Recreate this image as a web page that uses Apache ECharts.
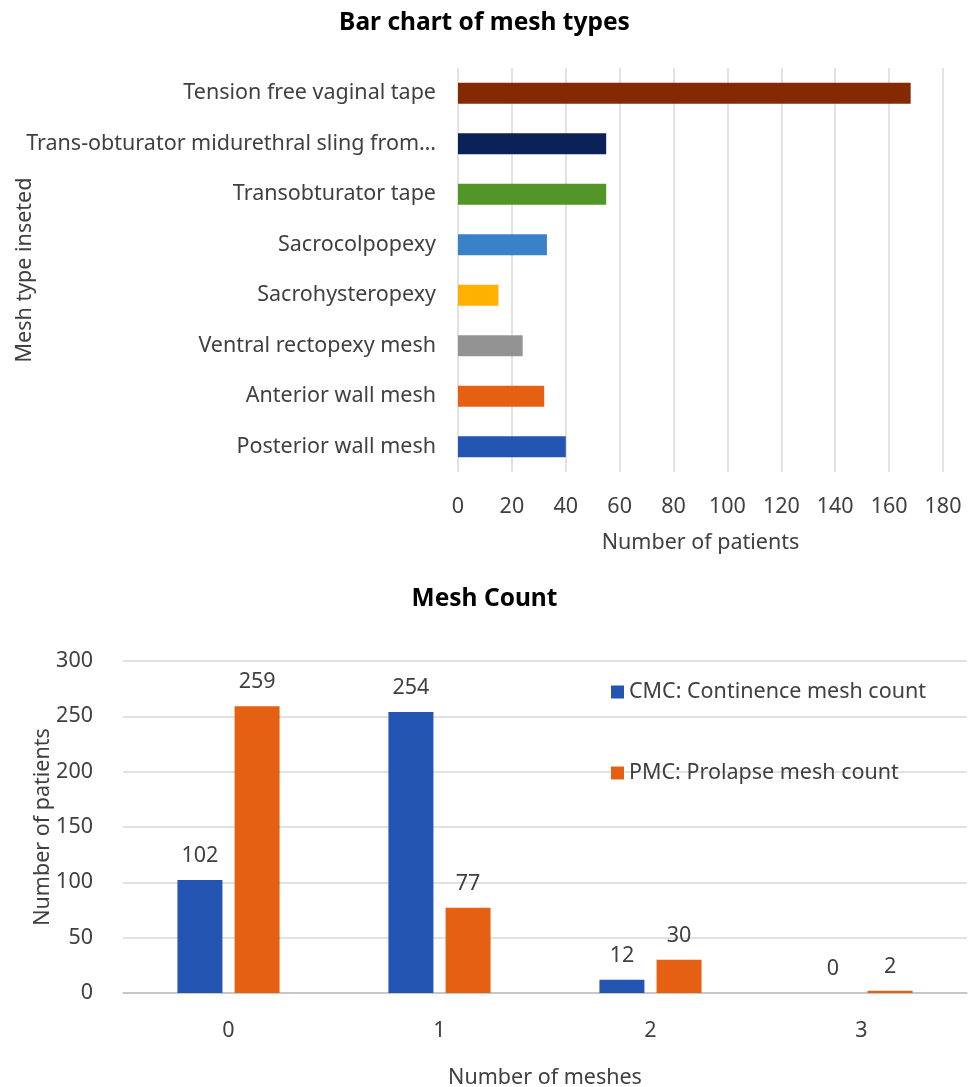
<!DOCTYPE html>
<html>
<head>
<meta charset="utf-8">
<script src="https://cdn.jsdelivr.net/npm/echarts@6/dist/echarts.min.js"></script>
<style>
  html, body { margin: 0; padding: 0; background: #fff; }
  #chart { width: 969px; height: 1087px; }
</style>
</head>
<body>
<div id="chart"></div>
<script>
// Mesh types inserted (top chart)
const meshTypes = [
  'Tension free vaginal tape',
  'Trans-obturator midurethral sling from…',
  'Transobturator tape',
  'Sacrocolpopexy',
  'Sacrohysteropexy',
  'Ventral rectopexy mesh',
  'Anterior wall mesh',
  'Posterior wall mesh'
];
const meshTypePatients = [168, 55, 55, 33, 15, 24, 32, 40];
const meshTypeColors = ['#842A02', '#0B2258', '#529628', '#3A82C8', '#FFB000', '#939393', '#E66014', '#2555B2'];

// Mesh count (bottom chart)
const meshCounts = ['0', '1', '2', '3'];
const cmcName = 'CMC: Continence mesh count';
const pmcName = 'PMC: Prolapse mesh count';
const cmcValues = [102, 254, 12, 0];
const pmcValues = [259, 77, 30, 2];

const FONT = 'Noto Sans';
const TXT = '#404040';
const GRID_LINE = '#d9d9d9';
const FS = 21.5;

const chart = echarts.init(document.getElementById('chart'));
chart.setOption({
  backgroundColor: '#fff',
  textStyle: { fontFamily: FONT },
  title: [
    { text: 'Bar chart of mesh types', left: 'center', top: 6,
      textStyle: { fontFamily: FONT, fontSize: 24.5, fontWeight: 'bold', color: '#000' } },
    { text: 'Mesh Count', left: 'center', top: 582,
      textStyle: { fontFamily: FONT, fontSize: 24.5, fontWeight: 'bold', color: '#000' } }
  ],
  legend: {
    orient: 'vertical',
    left: 606, top: 676,
    itemWidth: 13, itemHeight: 13, itemGap: 59,
    icon: 'rect',
    textStyle: { fontFamily: FONT, fontSize: FS, color: TXT },
    data: [cmcName, pmcName]
  },
  grid: [
    { left: 458, right: 26, top: 68, bottom: 615, containLabel: false, outerBoundsMode: 'none' },
    { left: 123, right: 2, top: 661, bottom: 94, containLabel: false, outerBoundsMode: 'none' }
  ],
  xAxis: [
    {
      gridIndex: 0, type: 'value', min: 0, max: 180, interval: 20,
      name: 'Number of patients', nameLocation: 'middle', nameGap: 60, nameMoveOverlap: false,
      nameTextStyle: { fontFamily: FONT, fontSize: FS, color: TXT },
      axisLine: { show: false }, axisTick: { show: false },
      axisLabel: { fontFamily: FONT, fontSize: FS, color: TXT, margin: 24 },
      splitLine: { lineStyle: { color: GRID_LINE, width: 1.5 } }
    },
    {
      gridIndex: 1, type: 'category', data: meshCounts,
      name: 'Number of meshes', nameLocation: 'middle', nameGap: 74, nameMoveOverlap: false,
      nameTextStyle: { fontFamily: FONT, fontSize: FS, color: TXT },
      axisLine: { lineStyle: { color: '#bfbfbf', width: 1.5 } }, axisTick: { show: false },
      axisLabel: { fontFamily: FONT, fontSize: FS, color: TXT, margin: 27 }
    }
  ],
  yAxis: [
    {
      gridIndex: 0, type: 'category', data: meshTypes, inverse: true,
      name: 'Mesh type inseted', nameLocation: 'middle', nameGap: 422, nameMoveOverlap: false,
      nameTextStyle: { fontFamily: FONT, fontSize: FS, color: TXT },
      axisLine: { show: false }, axisTick: { show: false },
      axisLabel: { fontFamily: FONT, fontSize: FS, color: TXT, margin: 22 }
    },
    {
      gridIndex: 1, type: 'value', min: 0, max: 300, interval: 50,
      name: 'Number of patients', nameLocation: 'middle', nameGap: 69, nameMoveOverlap: false,
      nameTextStyle: { fontFamily: FONT, fontSize: FS, color: TXT },
      axisLine: { show: false }, axisTick: { show: false },
      axisLabel: { fontFamily: FONT, fontSize: FS, color: TXT, margin: 30 },
      splitLine: { lineStyle: { color: GRID_LINE, width: 1.5 } }
    }
  ],
  series: [
    {
      type: 'bar', xAxisIndex: 0, yAxisIndex: 0,
      barWidth: 21,
      data: meshTypePatients.map((v, i) => ({ value: v, itemStyle: { color: meshTypeColors[i] } })),
      silent: true
    },
    {
      name: cmcName, type: 'bar', xAxisIndex: 1, yAxisIndex: 1,
      data: cmcValues, barWidth: 45, barGap: '27%',
      itemStyle: { color: '#2555B2' },
      label: { show: true, position: 'top', distance: 13, fontFamily: FONT, fontSize: FS, color: TXT }
    },
    {
      name: pmcName, type: 'bar', xAxisIndex: 1, yAxisIndex: 1,
      data: pmcValues, barWidth: 45, barGap: '27%',
      itemStyle: { color: '#E66014' },
      label: { show: true, position: 'top', distance: 13, fontFamily: FONT, fontSize: FS, color: TXT }
    }
  ]
});
</script>
</body>
</html>
